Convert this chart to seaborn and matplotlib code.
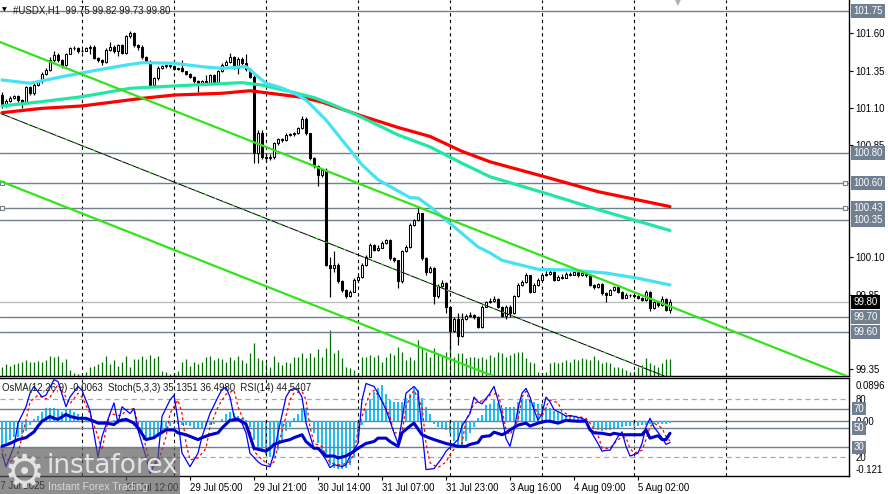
import numpy as np
import matplotlib
matplotlib.use("Agg")
import matplotlib.pyplot as plt
import matplotlib.transforms as mtransforms
from matplotlib.patches import Rectangle
import seaborn as sns

# ---------------- DATA ----------------
symbol_title = "#USDX,H1  99.75 99.82 99.73 99.80"
ind_title = "OsMA(12,26,9) -0.0063  Stoch(5,3,3) 35.1351 36.4980  RSI(14) 44.5407"

first_open = 101.19
closes = [
    101.12, 101.15, 101.17, 101.18, 101.155, 101.14, 101.24, 101.20, 101.255, 101.28,
    101.33, 101.355, 101.42, 101.455, 101.42, 101.39, 101.465, 101.50, 101.505, 101.48,
    101.485, 101.50, 101.51, 101.435, 101.42, 101.41, 101.49, 101.51, 101.48, 101.52,
    101.47, 101.58, 101.60, 101.52, 101.51, 101.445, 101.41, 101.255, 101.30, 101.37,
    101.38, 101.385, 101.38, 101.36, 101.365, 101.345, 101.33, 101.31, 101.28, 101.265,
    101.28, 101.27, 101.32, 101.27, 101.345, 101.39, 101.41, 101.44, 101.37, 101.43,
    101.40, 101.36, 101.31, 100.80, 100.93, 100.775, 100.763, 100.77, 100.864, 100.89,
    100.885, 100.92, 100.925, 100.93, 100.965, 101.03, 100.93, 100.765, 100.71, 100.65,
    100.685, 100.05, 100.03, 100.05, 99.94, 99.88, 99.84, 99.87, 99.948, 99.97,
    100.05, 100.105, 100.183, 100.15, 100.165, 100.195, 100.215, 100.093, 100.08, 99.94,
    100.14, 100.17, 100.317, 100.35, 100.395, 100.093, 100.0, 100.03, 99.84, 99.91,
    99.93, 99.77, 99.61, 99.69, 99.575, 99.69, 99.71, 99.715, 99.70, 99.635,
    99.77, 99.80, 99.81, 99.82, 99.77, 99.71, 99.77, 99.73, 99.84, 99.915,
    99.935, 99.98, 99.87, 99.915, 99.95, 99.98, 99.99, 100.005, 99.95, 99.97,
    99.965, 99.99, 99.985, 100.005, 99.98, 99.995, 99.98, 99.915, 99.90, 99.92,
    99.86, 99.85, 99.88, 99.90, 99.87, 99.83, 99.85, 99.845, 99.84, 99.83,
    99.815, 99.87, 99.76, 99.80, 99.78, 99.82, 99.75, 99.80]

highs = [
    101.21, 101.16, 101.18, 101.19, 101.19, 101.16, 101.25, 101.25, 101.27, 101.29,
    101.34, 101.37, 101.44, 101.48, 101.47, 101.43, 101.47, 101.51, 101.515, 101.51,
    101.495, 101.51, 101.52, 101.52, 101.44, 101.43, 101.50, 101.54, 101.52, 101.53,
    101.53, 101.59, 101.615, 101.61, 101.53, 101.52, 101.45, 101.42, 101.31, 101.38,
    101.39, 101.395, 101.39, 101.385, 101.37, 101.42, 101.35, 101.335, 101.315, 101.29,
    101.29, 101.32, 101.33, 101.33, 101.355, 101.40, 101.42, 101.47, 101.45, 101.44,
    101.44, 101.46, 101.37, 101.32, 100.95, 100.95, 100.80, 100.79, 100.87, 100.90,
    100.90, 100.93, 100.935, 100.94, 100.975, 101.045, 101.04, 100.935, 100.775, 100.72,
    100.695, 100.70, 100.10, 100.14, 100.06, 99.945, 99.885, 99.88, 99.96, 99.985,
    100.06, 100.115, 100.195, 100.19, 100.18, 100.21, 100.225, 100.22, 100.10, 100.085,
    100.15, 100.18, 100.33, 100.36, 100.43, 100.40, 100.10, 100.04, 100.035, 99.92,
    99.945, 99.935, 99.775, 99.70, 99.73, 99.73, 99.72, 99.735, 99.72, 99.705,
    99.78, 99.81, 99.825, 99.84, 99.83, 99.775, 99.78, 99.78, 99.85, 99.93,
    99.95, 99.995, 99.985, 99.925, 99.96, 99.99, 100.01, 100.02, 100.01, 99.985,
    99.99, 100.0, 100.0, 100.015, 100.01, 100.005, 100.0, 99.985, 99.92, 99.93,
    99.925, 99.865, 99.89, 99.91, 99.905, 99.875, 99.86, 99.855, 99.85, 99.845,
    99.835, 99.88, 99.875, 99.81, 99.805, 99.84, 99.83, 99.82]

lows = [
    101.10, 101.11, 101.14, 101.16, 101.14, 101.10, 101.13, 101.19, 101.19, 101.25,
    101.27, 101.32, 101.35, 101.41, 101.41, 101.37, 101.38, 101.46, 101.49, 101.47,
    101.475, 101.48, 101.46, 101.43, 101.41, 101.39, 101.40, 101.48, 101.47, 101.45,
    101.46, 101.46, 101.57, 101.51, 101.49, 101.43, 101.40, 101.245, 101.245, 101.29,
    101.36, 101.37, 101.37, 101.355, 101.355, 101.34, 101.32, 101.30, 101.27, 101.21,
    101.255, 101.26, 101.26, 101.26, 101.265, 101.34, 101.385, 101.405, 101.36, 101.33,
    101.39, 101.35, 101.30, 100.73, 100.73, 100.76, 100.74, 100.75, 100.76, 100.855,
    100.875, 100.88, 100.91, 100.915, 100.925, 100.96, 100.92, 100.755, 100.70, 100.575,
    100.64, 100.04, 99.835, 100.00, 99.93, 99.87, 99.83, 99.835, 99.865, 99.94,
    99.96, 100.045, 100.10, 100.14, 100.145, 100.16, 100.19, 100.085, 100.07, 99.895,
    99.93, 100.135, 100.165, 100.31, 100.345, 100.085, 99.985, 99.995, 99.79, 99.83,
    99.90, 99.725, 99.50, 99.60, 99.51, 99.565, 99.68, 99.70, 99.69, 99.625,
    99.63, 99.765, 99.795, 99.80, 99.76, 99.70, 99.69, 99.70, 99.72, 99.835,
    99.91, 99.93, 99.86, 99.865, 99.91, 99.945, 99.975, 99.985, 99.94, 99.945,
    99.955, 99.96, 99.975, 99.98, 99.97, 99.975, 99.97, 99.905, 99.89, 99.895,
    99.85, 99.80, 99.845, 99.875, 99.86, 99.82, 99.825, 99.835, 99.83, 99.82,
    99.805, 99.81, 99.74, 99.755, 99.77, 99.775, 99.74, 99.73]

volumes = [
    9, 12, 10, 12, 13, 14, 16, 14, 14, 15,
    14, 16, 20, 19, 20, 14, 17, 6, 3, 2,
    1, 4, 9, 10, 12, 14, 20, 12, 16, 10,
    14, 20, 9, 17, 17, 20, 17, 21, 18, 20,
    5, 4, 2, 3, 5, 14, 17, 10, 14, 12,
    14, 19, 20, 16, 18, 17, 14, 19, 16, 20,
    16, 13, 23, 33, 18, 16, 13, 9, 20, 14,
    11, 14, 13, 19, 19, 23, 18, 23, 19, 27,
    19, 28, 46, 23, 26, 18, 9, 8, 6, 3,
    19, 19, 21, 19, 21, 14, 19, 23, 21, 29,
    24, 16, 19, 16, 36, 28, 24, 19, 28, 23,
    21, 24, 31, 19, 23, 23, 18, 19, 19, 18,
    19, 17, 21, 19, 24, 23, 19, 21, 23, 24,
    24, 18, 14, 13, 4, 3, 4, 13, 14, 13,
    14, 16, 14, 17, 16, 18, 17, 16, 20, 16,
    13, 14, 13, 9, 9, 8, 6, 4, 5, 9,
    11, 18, 13, 11, 9, 13, 17, 17]

# moving averages (bar index, value)
ma_fast_bars = [0, 7, 16, 24, 31, 35, 43, 50, 55, 61, 66, 70, 74, 76, 81, 87, 90, 94, 102, 104,
                107, 115, 119, 122, 125, 134, 142, 151, 159, 167]
ma_fast_vals = [101.288, 101.266, 101.315, 101.355, 101.388, 101.404, 101.40, 101.377, 101.366,
                101.377, 101.266, 101.234, 101.187, 101.154, 101.02, 100.82, 100.72, 100.62,
                100.50, 100.497, 100.44, 100.26, 100.17, 100.13, 100.08, 100.02, 100.015,
                99.995, 99.96, 99.915]
ma_mid_bars = [0, 10, 20, 32, 43, 60, 65, 72, 78, 82, 89, 99, 107, 115, 122, 137, 149, 167]
ma_mid_vals = [101.114, 101.143, 101.176, 101.232, 101.248, 101.27, 101.254, 101.21, 101.17,
               101.13, 101.05, 100.92, 100.84, 100.73, 100.64, 100.52, 100.42, 100.28]
ma_slow_bars = [0, 10, 20, 35, 43, 55, 62, 67, 75, 80, 89, 99, 107, 115, 122, 137, 149, 167]
ma_slow_vals = [101.069, 101.098, 101.114, 101.165, 101.187, 101.199, 101.216, 101.199, 101.172,
                101.14, 101.055, 100.97, 100.91, 100.81, 100.74, 100.63, 100.54, 100.44]

# channel lines: two anchor points each (bar, price)
channel_upper = [(0, 101.537), (135, 100.110)]
channel_mid = [(0, 101.060), (167, 99.290)]
channel_lower = [(0, 100.606), (122, 99.313)]

level_prices = [101.75, 100.80, 100.60, 100.43, 100.35, 99.70, 99.60]
bid_price = 99.80
grid_prices = [101.60, 101.35, 101.10, 100.85, 100.10, 99.85, 99.35]
day_breaks = [20, 43, 66, 89, 112, 135, 158, 181]

tick_bars = [31, 47, 63, 79, 95, 111, 127, 143, 159]
tick_labels = ["28 Jul 12:00", "29 Jul 05:00", "29 Jul 21:00", "30 Jul 14:00", "31 Jul 07:00",
               "31 Jul 23:00", "3 Aug 16:00", "4 Aug 09:00", "5 Aug 02:00"]
first_label = "27 Jul 2025"

osma = [
    -0.065, -0.057, -0.049, -0.041, -0.040, -0.033, -0.025, -0.011, 0.004, 0.011,
    0.022, 0.031, 0.032, 0.033, 0.029, 0.023, 0.026, 0.027, 0.022, 0.017,
    0.011, 0.005, -0.001, -0.004, -0.007, -0.007, -0.007, -0.002, 0.002, 0.004,
    0.006, 0.004, -0.002, -0.012, -0.024, -0.033, -0.042, -0.048, -0.046, -0.040,
    -0.030, -0.019, -0.013, -0.008, -0.007, -0.010, -0.011, -0.013, -0.019, -0.019,
    -0.018, -0.013, -0.011, -0.009, -0.003, 0.005, 0.016, 0.022, 0.020, 0.012,
    0.006, 0.002, -0.015, -0.048, -0.069, -0.078, -0.086, -0.090, -0.090, -0.073,
    -0.048, -0.027, -0.015, 0.006, 0.018, 0.031, 0.033, 0.002, -0.032, -0.057,
    -0.073, -0.094, -0.111, -0.118, -0.121, -0.120, -0.119, -0.110, -0.090, -0.048,
    -0.011, 0.027, 0.052, 0.072, 0.081, 0.0896, 0.068, 0.052, 0.048, 0.048,
    0.048, 0.056, 0.068, 0.081, 0.077, 0.056, 0.035, 0.018, -0.007, -0.015,
    -0.019, -0.023, -0.032, -0.050, -0.060, -0.062, -0.050, -0.030, -0.015, 0.006,
    0.014, 0.039, 0.043, 0.052, 0.045, 0.031, 0.035, 0.035, 0.035, 0.048,
    0.056, 0.055, 0.052, 0.048, 0.043, 0.043, 0.035, 0.031, 0.025, 0.022,
    0.018, 0.014, 0.012, 0.010, 0.009, 0.006, 0.002, -0.003, -0.015, -0.022,
    -0.025, -0.024, -0.022, -0.021, -0.019, -0.016, -0.014, -0.013, -0.013, -0.012,
    -0.011, -0.010, -0.009, -0.008, -0.008, -0.007, -0.007, -0.0063]

stoch_k_bars = [0, 1, 3, 4, 6, 7, 8, 10, 11, 13, 14, 16, 17, 19, 20, 22, 23, 24, 25, 27, 28, 29,
                30, 32, 33, 34, 36, 37, 39, 40, 42, 43, 44, 45, 47, 49, 50, 52, 54, 55, 56, 57,
                58, 60, 61, 62, 64, 65, 67, 68, 69, 71, 72, 73, 74, 75, 76, 78, 79, 81, 82, 83,
                85, 86, 87, 89, 90, 91, 93, 94, 96, 98, 99, 100, 101, 103, 104, 105, 106, 108,
                110, 111, 112, 114, 115, 117, 118, 119, 120, 122, 123, 124, 125, 126, 127, 128,
                129, 130, 131, 132, 133, 134, 135, 136, 137, 138, 140, 141, 142, 143, 145, 146,
                147, 149, 150, 151, 152, 154, 155, 156, 157, 159, 160, 161, 162, 163, 165, 166,
                167]
stoch_k_vals = [24, 10, 31, 55, 72, 86, 93, 82, 84, 100, 98, 72, 82, 93, 89, 68, 44, 20, 41, 65,
                76, 55, 72, 65, 70, 48, 20, 3, 20, 62, 79, 84, 58, 24, 10, 24, 41, 65, 82, 90,
                92, 82, 62, 55, 45, 24, 15, 12, 10, 24, 45, 82, 89, 91, 89, 82, 55, 29, 29, 17,
                9, 12, 10, 12, 21, 34, 79, 96, 93, 86, 69, 45, 34, 58, 86, 93, 88, 48, 7, 8,
                19, 26, 30, 38, 52, 65, 82, 77, 75, 86, 93, 79, 62, 39, 31, 48, 70, 86, 91, 82,
                69, 58, 65, 82, 77, 69, 65, 62, 63, 62, 60, 58, 48, 34, 26, 27, 27, 41, 46, 31,
                21, 24, 34, 51, 60, 51, 40, 33, 35.1]

stoch_d_bars = [0, 2, 4, 6, 7, 9, 11, 12, 14, 16, 17, 19, 20, 22, 24, 25, 26, 27, 29, 30, 31,
                33, 34, 36, 37, 39, 41, 42, 44, 45, 46, 47, 49, 51, 52, 54, 56, 58, 59, 60, 62,
                63, 65, 67, 68, 69, 71, 72, 73, 75, 76, 77, 78, 80, 81, 82, 84, 85, 87, 88, 89,
                91, 92, 93, 95, 97, 98, 100, 101, 102, 103, 105, 106, 107, 109, 111, 112, 113,
                115, 116, 118, 119, 121, 122, 124, 125, 126, 127, 129, 130, 131, 132, 134, 135,
                136, 137, 139, 140, 141, 142, 144, 146, 147, 149, 150, 152, 153, 155, 156, 157,
                158, 160, 161, 162, 163, 165, 166, 167]
stoch_d_vals = [28, 14, 24, 58, 77, 84, 80, 82, 95, 82, 75, 86, 82, 65, 41, 27, 48, 65, 63, 63,
                69, 70, 55, 31, 12, 14, 41, 65, 79, 65, 34, 17, 19, 29, 51, 72, 85, 89, 72, 62,
                48, 26, 17, 12, 15, 31, 62, 79, 86, 88, 79, 51, 34, 31, 21, 14, 12, 12, 15, 24,
                48, 75, 86, 89, 79, 62, 45, 45, 72, 82, 89, 72, 34, 14, 9, 15, 22, 28, 34, 58,
                75, 77, 79, 84, 86, 69, 48, 43, 58, 82, 88, 77, 65, 62, 72, 79, 76, 67, 65, 62,
                62, 60, 55, 43, 29, 29, 34, 41, 40, 29, 24, 27, 38, 51, 55, 50, 41, 36.5]

rsi_bars = [0, 2, 4, 6, 8, 9, 10, 12, 13, 14, 16, 17, 19, 21, 23, 24, 26, 28, 29, 31, 33, 34, 36,
            38, 39, 41, 43, 44, 46, 49, 50, 52, 54, 55, 57, 59, 61, 63, 64, 66, 67, 68, 70, 72,
            73, 75, 76, 78, 79, 81, 83, 84, 86, 88, 89, 91, 93, 94, 96, 97, 99, 100, 102, 103,
            105, 107, 108, 111, 112, 114, 116, 117, 119, 120, 122, 123, 125, 126, 127, 129, 131,
            132, 134, 136, 137, 139, 141, 142, 144, 146, 147, 148, 150, 152, 153, 155, 157, 158,
            160, 161, 162, 164, 165, 166, 167]
rsi_vals = [31, 34, 38, 40, 46, 52, 57, 62, 60, 59, 64, 62, 60, 60, 57, 55, 55, 53.6, 57, 59, 55,
            50, 38, 40, 43, 48, 48, 45, 43, 38, 40, 43, 45, 50, 58, 59, 54, 29, 28, 26, 29, 33,
            36, 38, 40, 43, 36, 29, 29, 21, 21, 19, 21, 26, 29, 34, 36, 39.5, 39.5, 36, 31, 45,
            52, 55, 43, 39.5, 38, 34, 33, 31, 31, 33, 35, 41, 42, 45.7, 43, 45, 48, 53, 55, 52,
            55, 57, 57, 55, 58, 57.5, 57, 57, 48, 45, 44.5, 43, 44.5, 43, 43, 43, 43, 48, 39.5,
            42, 38, 38, 44.54]

ind_levels_solid = [70, 50, 30]
ind_levels_dashed = [80, 20]

# ---------------- STYLE ----------------
sns.set_theme(style="white")
plt.rcParams["font.family"] = ["Liberation Sans", "DejaVu Sans"]
plt.rcParams["axes.linewidth"] = 1.0

W, H = 888, 494
fig = plt.figure(figsize=(W / 100, H / 100), dpi=100)
fig.patch.set_facecolor("white")

def fy(py):
    return 1 - py / H

ax_w = 849 / W
axv = fig.add_axes([0, fy(376), ax_w, 376 / H])
ax = fig.add_axes([0, fy(376), ax_w, 376 / H], sharex=axv)
axo = fig.add_axes([0, fy(476), ax_w, 98 / H])
axi = fig.add_axes([0, fy(476), ax_w, 98 / H], sharex=axo)
for a in (ax, axi):
    a.patch.set_visible(False)

FS = 6.9
SLATE = "#708090"
bars = np.arange(len(closes))
c = np.array(closes)
o = np.array([first_open] + closes[:-1])

# ---- volume (back layer) ----
axv.vlines(bars, 0, volumes, color="#007000", lw=0.9)
axv.set_ylim(0, 376)
axv.set_yticks([])
axv.set_xticks([])
for s in axv.spines.values():
    s.set_visible(False)

# ---- grid / levels ----
for b in day_breaks:
    ax.axvline(b, color="black", lw=0.8, ls=(0, (3, 3)), zorder=1)
    axi.axvline(b, color="black", lw=0.8, ls=(0, (3, 3)), zorder=1)
for lv in level_prices:
    ax.axhline(lv, color=SLATE, lw=1.0, zorder=1.5)
ax.axhline(bid_price, color="#BDBDBD", lw=1.0, zorder=1.5)
ax.plot([0, 210.8], [100.60, 100.60], ls="none", marker="s", ms=3.2, mfc="white", mec=SLATE,
        mew=0.8, zorder=2, clip_on=False)
ax.plot([0, 210.8], [100.43, 100.43], ls="none", marker="s", ms=3.2, mfc="white", mec=SLATE,
        mew=0.8, zorder=2, clip_on=False)

# ---- candles ----
up = c >= o
lo = np.minimum(o, c)
hgt = np.maximum(np.abs(c - o), 0.003)
ax.vlines(bars, lows, highs, color="black", lw=0.85, zorder=3)
ax.bar(bars, hgt, bottom=lo, width=0.64, color=np.where(up, "white", "black"),
       edgecolor="black", linewidth=0.75, zorder=4)

# ---- moving averages ----
sns.lineplot(x=ma_slow_bars, y=ma_slow_vals, ax=ax, color="#FF0000", lw=2.3, zorder=5)
sns.lineplot(x=ma_mid_bars, y=ma_mid_vals, ax=ax, color="#22E6A2", lw=2.3, zorder=5)
sns.lineplot(x=ma_fast_bars, y=ma_fast_vals, ax=ax, color="#45E2F4", lw=2.3, zorder=5)

# ---- channel ----
ax.axline(channel_upper[0], channel_upper[1], color="#33E31A", lw=1.6, zorder=6)
ax.axline(channel_lower[0], channel_lower[1], color="#33E31A", lw=1.6, zorder=6)
ax.axline(channel_mid[0], channel_mid[1], color="black", lw=0.7, zorder=6)
ax.axline(channel_mid[0], channel_mid[1], color="#33E31A", lw=0.8, ls=(0, (2, 7)), zorder=6.1)

ax.set_xlim(-0.5, 211.75)
ax.set_ylim(99.3053, 101.8237)

# ---- main axis styling ----
for k in ("left", "top"):
    ax.spines[k].set_visible(False)
for k in ("right", "bottom"):
    ax.spines[k].set_color("black")
    ax.spines[k].set_linewidth(1.0)
ax.yaxis.tick_right()
ax.set_yticks(grid_prices)
ax.set_yticklabels([f"{p:.2f}" for p in grid_prices])
ax.tick_params(axis="y", direction="out", length=3, width=0.8, pad=1.5, labelsize=FS,
               colors="black", right=True, left=False)
ax.tick_params(axis="x", bottom=False, labelbottom=False)
ax.set_xlabel("")
ax.set_ylabel("")

tr_main = mtransforms.blended_transform_factory(ax.transAxes, ax.transData)
lab_x = 1 + 4.5 / 849
for lv in level_prices:
    ax.text(lab_x, lv, f"{lv:.2f}", transform=tr_main, ha="left", va="center", fontsize=FS,
            color="white", zorder=20, clip_on=False,
            bbox=dict(boxstyle="square,pad=0.22", fc=SLATE, ec="none"))
ax.text(lab_x, bid_price, f"{bid_price:.2f}", transform=tr_main, ha="left", va="center",
        fontsize=FS, color="white", zorder=20, clip_on=False,
        bbox=dict(boxstyle="square,pad=0.22", fc="black", ec="none"))

ax.text(13 / 849, 1 - 10 / 376, symbol_title, transform=ax.transAxes, ha="left", va="center",
        fontsize=FS, color="#1a1a1a", zorder=20)
ax.text(2 / 849, 1 - 10 / 376, "\u25BC", transform=ax.transAxes, ha="left", va="center",
        fontsize=4.5, color="black", family=["DejaVu Sans"], zorder=20)
ax.text(678 / 849, 1 - 3 / 376, "\u25BC", transform=ax.transAxes, ha="center", va="center",
        fontsize=5.5, color="#B0B0B0", family=["DejaVu Sans"], zorder=20)

# ---- indicator panel ----
axo.bar(bars, osma, width=0.72, color="#1FBDF4", linewidth=0, zorder=2)
axo.axhline(0.0, color=SLATE, lw=1.0, zorder=1)
axo.set_ylim(-0.1386, 0.10715)
axo.yaxis.tick_right()
axo.set_yticks([0.0896, 0.0, -0.121])
axo.set_yticklabels(["0.0896", "0.00", "-0.121"])
axo.tick_params(axis="y", direction="out", length=0, pad=4.5, labelsize=FS, colors="black")
axo.tick_params(axis="x", bottom=False, labelbottom=False)
for s in axo.spines.values():
    s.set_visible(False)

for lv in ind_levels_dashed:
    axi.axhline(lv, color="#AAAAAA", lw=0.9, ls=(0, (4, 3)), zorder=1)
for lv in ind_levels_solid:
    axi.axhline(lv, color=SLATE, lw=1.0, zorder=1)

sns.lineplot(x=stoch_d_bars, y=stoch_d_vals, ax=axi, color="#FF0000", lw=0.9, zorder=3,
             linestyle=(0, (2.2, 2.2)))
sns.lineplot(x=stoch_k_bars, y=stoch_k_vals, ax=axi, color="#0000FF", lw=0.9, zorder=4)
sns.lineplot(x=rsi_bars, y=rsi_vals, ax=axi, color="#0000CD", lw=2.2, zorder=5)

axi.set_xlim(-0.5, 211.75)
axi.set_ylim(0.35, 101.7)
axi.set_xlabel("")
axi.set_ylabel("")
axi.spines["left"].set_visible(False)
for k in ("right", "top", "bottom"):
    axi.spines[k].set_color("black")
    axi.spines[k].set_linewidth(1.0)
axi.yaxis.tick_right()
axi.set_yticks(ind_levels_dashed)
axi.set_yticklabels([str(v) for v in ind_levels_dashed])
axi.tick_params(axis="y", direction="out", length=0, pad=4.5, labelsize=FS, colors="black")
axi.set_xticks(tick_bars)
axi.set_xticklabels(tick_labels, ha="left")
axi.tick_params(axis="x", direction="out", length=3, width=0.8, pad=2, labelsize=FS,
                colors="black", bottom=True)

tr_ind = mtransforms.blended_transform_factory(axi.transAxes, axi.transData)
for lv in ind_levels_solid:
    axi.text(lab_x, lv, str(lv), transform=tr_ind, ha="left", va="center", fontsize=FS,
             color="white", zorder=20, clip_on=False,
             bbox=dict(boxstyle="square,pad=0.18", fc=SLATE, ec="none"))

axi.text(2 / 849, 1 - 10 / 98, ind_title, transform=axi.transAxes, ha="left", va="center",
         fontsize=FS, color="#1a1a1a", zorder=20)

fig.text(-4.5 / W, fy(486), first_label, ha="left", va="center", fontsize=FS, color="black")

# ---- watermark ----
fig.patches.append(Rectangle((0, fy(494)), 180 / W, 46 / H, transform=fig.transFigure,
                             facecolor="#5a5a5a", edgecolor="none", alpha=0.68, zorder=30))
fig.text(24 / W, fy(474), "\u2699", ha="center", va="center", fontsize=33, color="#EDEDED",
         family=["DejaVu Sans"], alpha=0.9, zorder=31)
fig.text(46 / W, fy(466), "instaforex", ha="left", va="center", fontsize=19, color="#EDEDED",
         family=["DejaVu Sans"], alpha=0.9, zorder=31)
fig.text(48 / W, fy(486.5), "Instant Forex Trading", ha="left", va="center", fontsize=7.6,
         color="#E0E0E0", alpha=0.9, zorder=31)

fig.savefig("out.png", dpi=100)
